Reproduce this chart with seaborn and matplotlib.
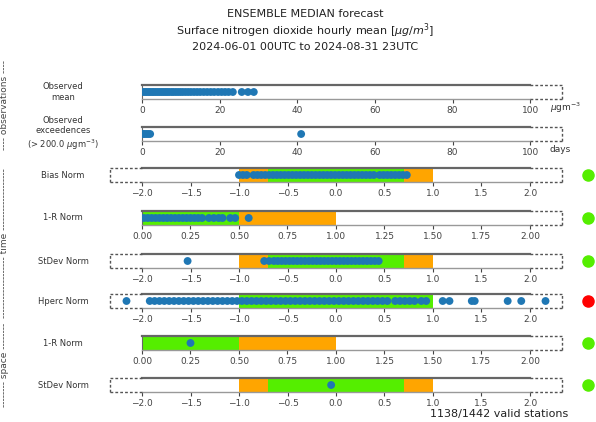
import numpy as np
import matplotlib
matplotlib.use("Agg")
import matplotlib.pyplot as plt
import seaborn as sns

# ---- data ----
title_lines = ["ENSEMBLE MEDIAN forecast",
               "Surface nitrogen dioxide hourly mean [$\\mu g/m^3$]",
               "2024-06-01 00UTC to 2024-08-31 23UTC"]

panel_labels = ["Observed\nmean",
                "Observed\nexceedences\n(> 200.0 $\\mu$gm$^{-3}$)",
                "Bias Norm", "1-R Norm", "StDev Norm", "Hperc Norm",
                "1-R Norm", "StDev Norm"]

obs_mean = [0.3, 0.8, 1.2, 1.7, 2.1, 2.6, 3.0, 3.5, 4.0, 4.5, 5.0, 5.5, 6.0,
            6.5, 7.0, 7.6, 8.1, 8.7, 9.3, 9.9, 10.5, 11.2, 11.9, 12.6, 13.4,
            14.2, 15.0, 15.9, 16.8, 17.7, 18.6, 19.6, 20.5, 21.4, 22.3, 23.4,
            25.7, 27.3, 28.8]
obs_exceed = [0.2, 0.6, 1.1, 1.6, 2.1, 41.0]

bias_time = [-1.0, -0.96, -0.92, -0.85, -0.81, -0.77, -0.73, -0.69, -0.65,
             -0.61, -0.57, -0.53, -0.49, -0.45, -0.41, -0.37, -0.33, -0.29,
             -0.25, -0.21, -0.17, -0.13, -0.09, -0.05, -0.01, 0.03, 0.07,
             0.11, 0.15, 0.19, 0.23, 0.27, 0.31, 0.35, 0.39, 0.45, 0.49,
             0.53, 0.57, 0.61, 0.65, 0.69, 0.73]
r_time = [0.01, 0.03, 0.05, 0.07, 0.09, 0.11, 0.13, 0.15, 0.17, 0.19, 0.21,
          0.23, 0.25, 0.27, 0.29, 0.31, 0.345, 0.37, 0.395, 0.415, 0.455,
          0.48, 0.55]
stdev_time = [-1.53, -0.74, -0.69, -0.64, -0.60, -0.56, -0.52, -0.48, -0.44,
              -0.40, -0.36, -0.32, -0.28, -0.24, -0.20, -0.16, -0.12, -0.08,
              -0.04, 0.0, 0.04, 0.08, 0.12, 0.16, 0.20, 0.24, 0.28, 0.32,
              0.36, 0.40, 0.44]
hperc_time = [-2.16, -1.92, -1.87, -1.82, -1.77, -1.72, -1.67, -1.62, -1.57,
              -1.52, -1.47, -1.42, -1.37, -1.32, -1.27, -1.22, -1.17, -1.12,
              -1.07, -1.02, -0.97, -0.92, -0.87, -0.82, -0.77, -0.72, -0.67,
              -0.62, -0.57, -0.52, -0.47, -0.42, -0.37, -0.32, -0.27, -0.22,
              -0.17, -0.12, -0.07, -0.02, 0.03, 0.08, 0.13, 0.18, 0.23, 0.28,
              0.33, 0.38, 0.43, 0.48, 0.53, 0.61, 0.66, 0.71, 0.76, 0.81,
              0.88, 0.93, 1.10, 1.17, 1.40, 1.43, 1.77, 1.91, 2.16]
r_space = [0.25]
stdev_space = [-0.05]

panel_values = [obs_mean, obs_exceed, bias_time, r_time, stdev_time,
                hperc_time, r_space, stdev_space]
panel_kind = ["obs", "obs", "norm", "r", "norm", "norm", "r", "norm"]
panel_status = [None, None, "ok", "ok", "ok", "bad", "ok", "ok"]

# threshold bands (start, end, colour key)
bands_norm = [(-1.0, 1.0, "orange"), (-0.7, 0.7, "green")]
bands_r = [(0.0, 0.5, "green"), (0.5, 1.0, "orange")]
bands_hperc = [(-1.0, 1.0, "green")]
panel_bands = [[], [], bands_norm, bands_r, bands_norm, bands_hperc,
               bands_r, bands_norm]

group_labels = ["---- observations ----",
                "------------------- time -------------------",
                "-------- space --------"]

# ---- styling ----
sns.set_style("white")
plt.rcParams['font.family'] = ['DejaVu Sans']

colours = {"orange": "#ffa500", "green": "#55ee00"}
status_col = {"ok": "#55ee00", "bad": "#ff0000"}

W, H = 596, 422
fig = plt.figure(figsize=(W / 100, H / 100), dpi=100)

# kind -> (axes left px, width px, xlim, core range, ticks)
kinds = {
    "obs": (142, 420, (0, 108.2), (0, 100), [0, 20, 40, 60, 80, 100]),
    "norm": (110, 452, (-2.33, 2.33), (-2, 2),
             [-2, -1.5, -1, -0.5, 0, 0.5, 1, 1.5, 2]),
    "r": (142, 420, (0, 2.165), (0, 2),
          [0, 0.25, 0.5, 0.75, 1, 1.25, 1.5, 1.75, 2]),
}
tops = [85, 127, 168, 211, 254, 294, 336, 378]
bar_h = 14

for i, vals in enumerate(panel_values):
    left, width, xlim, core, ticks = kinds[panel_kind[i]]
    top = tops[i]
    ax = fig.add_axes([left / W, 1 - (top + bar_h) / H, width / W, bar_h / H])

    for a, b, c in panel_bands[i]:
        ax.axvspan(a, b, color=colours[c], zorder=1, lw=0)

    sns.scatterplot(x=vals, y=np.zeros(len(vals)), ax=ax, color="#1f77b4",
                    s=32, linewidth=0, edgecolor="none", legend=False,
                    zorder=3)
    ax.set_xlim(*xlim)
    ax.set_ylim(-1, 1)
    ax.set_yticks([])
    ax.set_xticks(ticks)
    ax.set_ylabel("")
    ax.tick_params(axis="x", bottom=True, length=3, width=0.8, pad=2,
                   labelsize=6.5, colors="#444444")

    lo, hi = core
    for side in ax.spines.values():
        side.set_visible(True)
    ax.spines["top"].set_bounds(lo, hi)
    ax.spines["top"].set_color("#666666")
    ax.spines["top"].set_linewidth(1.6)
    ax.spines["bottom"].set_bounds(lo, hi)
    ax.spines["bottom"].set_color("#999999")
    ax.spines["bottom"].set_linewidth(1.0)
    ax.spines["right"].set_visible(False)
    ax.spines["left"].set_visible(xlim[0] == lo)
    ax.spines["left"].set_color("#666666")

    # dashed box for the out-of-range part
    tr = ax.get_xaxis_transform()
    dash = dict(color="#555555", lw=1.0, ls=(0, (2, 1.5)), clip_on=False,
                transform=tr, zorder=4)
    for a, b in [(xlim[0], lo), (hi, xlim[1])]:
        if b > a:
            ax.plot([a, b], [1, 1], **dash)
            ax.plot([a, b], [0, 0], **dash)
    ax.plot([xlim[1], xlim[1]], [0, 1], **dash)
    if xlim[0] < lo:
        ax.plot([xlim[0], xlim[0]], [0, 1], **dash)

    yc = 1 - (top + bar_h / 2) / H
    fig.text(63 / W, yc, panel_labels[i], ha="center", va="center",
             fontsize=6, color="#333333", linespacing=1.25)

    if panel_status[i]:
        fig.lines.append(plt.Line2D([588 / W], [yc], marker="o",
                                    markersize=8, color=status_col[panel_status[i]],
                                    lw=0, transform=fig.transFigure))

# title
for k, (line, y) in enumerate(zip(title_lines, [14, 31, 47])):
    fig.text(305 / W, 1 - y / H, line, ha="center", va="center",
             fontsize=8, color="#222222")

# units and station count
fig.text(550 / W, 1 - 108 / H, "$\\mu$gm$^{-3}$", ha="left", va="center",
         fontsize=6.5, color="#333333")
fig.text(550 / W, 1 - 150 / H, "days", ha="left", va="center",
         fontsize=6.5, color="#333333")
fig.text(568 / W, 1 - 414 / H, "1138/1442 valid stations", ha="right",
         va="center", fontsize=8, color="#222222")

# group labels down the left side
for lab, yc in zip(group_labels, [105, 243, 365]):
    fig.text(5 / W, 1 - yc / H, lab, rotation=90, ha="center", va="center",
             fontsize=6.5, color="#444444")

fig.savefig("out.png", dpi=100, facecolor="white")
